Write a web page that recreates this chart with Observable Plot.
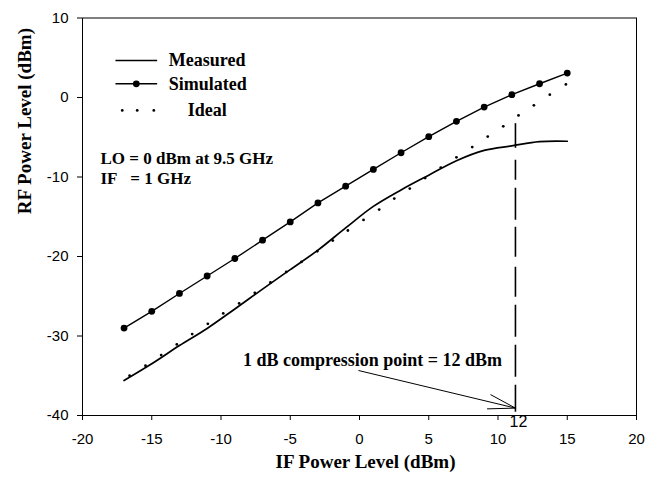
<!DOCTYPE html>
<html><head><meta charset="utf-8">
<script src="https://cdn.jsdelivr.net/npm/d3@7"></script>
<script src="https://cdn.jsdelivr.net/npm/@observablehq/plot@0.6"></script>
<style>body{margin:0;background:#fff}</style>
</head><body><div id="chart"></div>
<script>
// ---- data ----
const simX = [-17,-15,-13,-11,-9,-7,-5,-3,-1,1,3,5,7,9,11,13,15];
const simY = [-29.0,-26.9,-24.65,-22.45,-20.25,-17.95,-15.65,-13.26,-11.15,-9.05,-6.95,-4.93,-3.0,-1.2,0.35,1.73,3.07];
const measX = [-17,-15,-13,-11,-9,-7,-5,-3,-1,1,3,5,7,9,11,13,15];
const measY = [-35.6,-33.5,-31.2,-29.05,-26.6,-24.1,-21.65,-19.2,-16.4,-13.7,-11.63,-9.77,-7.95,-6.65,-6.08,-5.55,-5.5];
const idealX = [-16.6,-15.45,-14.32,-13.19,-12.08,-10.95,-9.84,-8.69,-7.56,-6.43,-5.29,-4.19,-3.05,-1.93,-0.84,0.29,1.42,2.51,3.63,4.74,5.87,7.0,8.14,9.26,10.38,11.48,12.59,13.74,14.9];
const idealY = [-35.0,-33.74,-32.4,-31.06,-29.76,-28.47,-27.16,-25.9,-24.57,-23.27,-21.94,-20.68,-19.34,-18.0,-16.73,-15.4,-14.1,-12.71,-11.46,-10.13,-8.82,-7.52,-6.23,-4.92,-3.63,-2.25,-0.99,0.35,1.65];
const xTicks = [-20,-15,-10,-5,0,5,10,15,20];
const yTicks = [-40,-30,-20,-10,0,10];
const seriesNames = ["Measured","Simulated","Ideal"];
const compressionX = 11.26;
const compressionLabel = "12";
const compressionText = "1 dB compression point = 12 dBm";
const conditionLines = ["LO = 0 dBm at 9.5 GHz", "IF\u00a0\u00a0 = 1 GHz"];
const xTitle = "IF Power Level (dBm)";
const yTitle = "RF Power Level (dBm)";

// ---- tables built from the arrays ----
const sim = simX.map((x,i)=>({x, y: simY[i]}));
const meas = measX.map((x,i)=>({x, y: measY[i]}));
const ideal = idealX.map((x,i)=>({x, y: idealY[i]}));

// ---- annotation layout (data units) ----
const legY = [4.66, 1.72, -1.62];
const legX0 = -17.62, legX1 = -14.61, legTextX = -13.77, legIdealTextX = -12.4;
const legendLines = [
  {x1: legX0, x2: legX1, y: legY[0]},
  {x1: legX0, x2: legX1, y: legY[1]}
];
const legendSimDot = [{x: (legX0+legX1)/2, y: legY[1]}];
const legendIdealDots = [-17.13,-16.05,-14.85].map(x=>({x, y: legY[2]}));
const legendTexts = [
  {x: legTextX, y: legY[0], t: seriesNames[0]},
  {x: legTextX, y: legY[1], t: seriesNames[1]},
  {x: legIdealTextX, y: legY[2], t: seriesNames[2]}
];
const condTexts = [{x: -18.7, y: -7.69, t: conditionLines[0]}, {x: -18.7, y: -10.23, t: conditionLines[1]}];

const serif = "'Liberation Serif', 'Times New Roman', serif";
const sans = "'Liberation Sans', Arial, sans-serif";

const chart = Plot.plot({
  width: 650,
  height: 479,
  marginLeft: 82,
  marginRight: 14,
  marginTop: 17.5,
  marginBottom: 64,
  style: {fontFamily: sans, fontSize: "15px", background: "white", color: "black", overflow: "visible"},
  x: {domain: [-20, 20]},
  y: {domain: [-40, 10]},
  marks: [
    Plot.axisX({ticks: xTicks, tickSize: 5, tickPadding: 13, tickFormat: d => String(d), label: null, fontSize: 15}),
    Plot.axisY({ticks: yTicks, tickSize: 5, tickPadding: 9, tickFormat: d => String(d), label: null, fontSize: 15}),
    Plot.frame({stroke: "black", strokeWidth: 1}),
    // series
    Plot.line(meas, {x: "x", y: "y", curve: "catmull-rom", stroke: "black", strokeWidth: 1.7}),
    Plot.line(sim, {x: "x", y: "y", stroke: "black", strokeWidth: 1.4}),
    Plot.dot(sim, {x: "x", y: "y", r: 3.4, fill: "black", stroke: "none"}),
    Plot.dot(ideal, {x: "x", y: "y", r: 1.4, fill: "black", stroke: "none"}),
    // compression marker
    Plot.ruleX([compressionX], {y1: -3.29, y2: -6.39, stroke: "black", strokeWidth: 1.6}),
    Plot.ruleX([compressionX], {y1: -7.9, y2: -40, stroke: "black", strokeWidth: 1.6,
      strokeDasharray: "20,8,32,7,30,10,30,8,32,8,32,8,27"}),
    Plot.text([compressionLabel], {x: compressionX, y: -40, dx: 3, dy: 6, lineAnchor: "middle", fontSize: 16, fontFamily: sans}),
    Plot.arrow([{x1: -0.05, y1: -34.35, x2: compressionX, y2: -39.07}],
      {x1: "x1", y1: "y1", x2: "x2", y2: "y2", headLength: 42, headAngle: 30, stroke: "black", strokeWidth: 1}),
    Plot.text([compressionText], {x: 0.94, y: -33.0, lineAnchor: "middle", fontSize: 18, fontWeight: "bold", fontFamily: serif}),
    // legend
    Plot.link(legendLines, {x1: "x1", x2: "x2", y1: "y", y2: "y", stroke: "black", strokeWidth: 1.5}),
    Plot.dot(legendSimDot, {x: "x", y: "y", r: 3.4, fill: "black", stroke: "none"}),
    Plot.dot(legendIdealDots, {x: "x", y: "y", r: 1.4, fill: "black", stroke: "none"}),
    Plot.text(legendTexts, {x: "x", y: "y", text: "t", textAnchor: "start", lineAnchor: "middle", fontSize: 18, fontWeight: "bold", fontFamily: serif}),
    Plot.text(condTexts, {x: "x", y: "y", text: "t", textAnchor: "start", lineAnchor: "middle", fontSize: 17, fontWeight: "bold", fontFamily: serif}),
    // axis titles
    Plot.text([xTitle], {frameAnchor: "bottom", dx: 6, dy: 46, lineAnchor: "middle", fontSize: 19, fontWeight: "bold", fontFamily: serif}),
    Plot.text([yTitle], {frameAnchor: "left", rotate: -90, dx: -58, dy: -2.5, lineAnchor: "middle", fontSize: 19, fontWeight: "bold", fontFamily: serif})
  ]
});
document.getElementById("chart").appendChild(chart);
</script>
</body></html>
